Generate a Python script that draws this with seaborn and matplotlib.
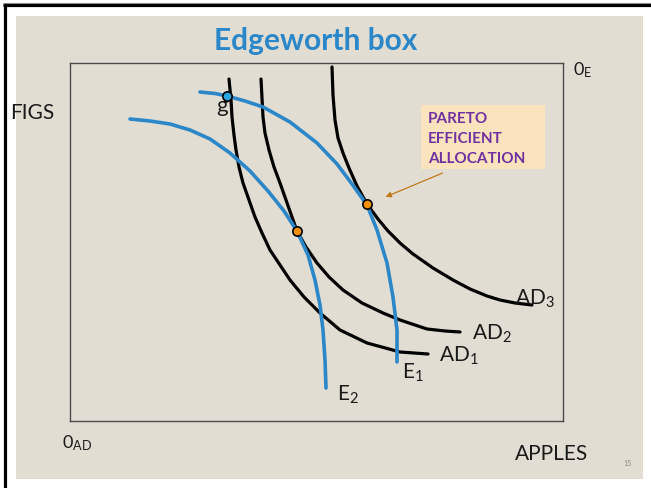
import matplotlib
matplotlib.use("Agg")
import matplotlib.pyplot as plt
from matplotlib.patches import Rectangle
from matplotlib.lines import Line2D
import pandas as pd
import seaborn as sns

# Curve points, measured inside the box (x: apples from 0_AD, y: figs from 0_AD)
e2_x = [60, 80, 100, 120, 140, 160, 180, 198, 214, 227, 238, 245, 250, 253, 255, 256]
e2_y = [302, 300, 297, 291, 282, 268, 250, 230, 210, 190, 166, 141, 116, 91, 61, 33]
e1_x = [130, 145, 157, 175, 193, 220, 247, 267, 282, 297, 307, 317, 323, 327, 327]
e1_y = [329, 327.5, 325, 320, 314, 299, 278, 257, 237, 216, 191, 158, 124, 91, 59]
ad1_x = [159, 161, 162, 164, 166, 169, 173, 179, 185, 192, 200, 210, 220, 234, 250, 270, 297, 330, 358]
ad1_y = [342, 321, 304, 286, 271, 254, 238, 221, 204, 188, 171, 156, 141, 124, 108, 91, 78, 69, 67]
ad2_x = [191, 192, 193, 195, 199, 204, 210, 216, 222, 227, 236, 247, 259, 273, 292, 313, 330, 357, 375, 390]
ad2_y = [342, 323, 304, 288, 271, 254, 238, 221, 204, 190, 174, 158, 144, 131, 118, 108, 101, 92, 90, 89]
ad3_x = [262, 263, 265, 268, 273, 279, 287, 297, 308, 318, 330, 343, 363, 383, 400, 417, 430, 445, 462]
ad3_y = [354, 326, 301, 283, 268, 253, 235, 217, 202, 190, 178, 167, 153, 141, 132, 125, 121, 118, 116]

# Marked allocations
pareto_x = [227, 297]
pareto_y = [190, 217]
g_x = [157]
g_y = [325]

curves = {"E1": (e1_x, e1_y), "E2": (e2_x, e2_y),
          "AD1": (ad1_x, ad1_y), "AD2": (ad2_x, ad2_y), "AD3": (ad3_x, ad3_y)}

W, H = 651, 488
BOX_L, BOX_T, BOX_R, BOX_B = 70, 63, 563, 421

sns.set_style("white")
plt.rcParams["font.family"] = ["Lato", "DejaVu Sans"]
plt.rcParams["mathtext.fontset"] = "custom"
plt.rcParams["mathtext.rm"] = "Lato"
plt.rcParams["mathtext.default"] = "regular"

BLUE = "#2b87c8"
BEIGE = "#e2ddd2"

fig = plt.figure(figsize=(W / 100, H / 100), dpi=100)
fig.patch.set_facecolor("white")


def fx(px):
    return px / W


def fy(py):
    return 1 - py / H


# slide background and frame
fig.add_artist(Rectangle((fx(16), fy(479)), fx(643) - fx(16), fy(16) - fy(479),
                         transform=fig.transFigure, facecolor=BEIGE, edgecolor="none", zorder=0))
fig.add_artist(Line2D([fx(4.5), fx(4.5)], [fy(3), fy(488)], transform=fig.transFigure,
                      color="black", lw=2.3, solid_capstyle="butt"))
fig.add_artist(Line2D([fx(3), fx(651)], [fy(4.5), fy(4.5)], transform=fig.transFigure,
                      color="black", lw=2.3, solid_capstyle="butt"))
fig.add_artist(Line2D([fx(3), fx(651)], [fy(2.8), fy(2.8)], transform=fig.transFigure,
                      color="#888888", lw=0.8, solid_capstyle="butt"))

ax = fig.add_axes([fx(BOX_L), fy(BOX_B), fx(BOX_R) - fx(BOX_L), fy(BOX_T) - fy(BOX_B)])
ax.set_facecolor("none")
ax.set_xlim(0, BOX_R - BOX_L)
ax.set_ylim(0, BOX_B - BOX_T)
ax.set_xticks([])
ax.set_yticks([])
for s in ax.spines.values():
    s.set_color("#4a4a4a")
    s.set_linewidth(1.0)

for name, (xs, ys) in curves.items():
    df = pd.DataFrame({"x": xs, "y": ys})
    is_e = name.startswith("E")
    sns.lineplot(data=df, x="x", y="y", sort=False, estimator=None,
                 color=BLUE if is_e else "black", lw=2.6 if is_e else 2.3, ax=ax,
                 solid_capstyle="round", solid_joinstyle="round", zorder=3 if is_e else 2)

sns.scatterplot(x=pareto_x, y=pareto_y, color="#f39200", edgecolor="black", linewidth=1.2,
                s=45, ax=ax, zorder=5)
sns.scatterplot(x=g_x, y=g_y, color="#29a8df", edgecolor="black", linewidth=1.2,
                s=45, ax=ax, zorder=5)

# curve labels
lab = dict(fontsize=15, color="#1a1a1a", va="baseline", ha="left")
ax.text(445, 116, "AD$_3$", **lab)
ax.text(402, 81, "AD$_2$", **lab)
ax.text(369, 59, "AD$_1$", **lab)
ax.text(332, 42, "E$_1$", **lab)
ax.text(267, 20, "E$_2$", **lab)
ax.text(152, 309, "g", fontsize=16, color="#1a1a1a", va="baseline", ha="center")

# pareto callout
fig.add_artist(Rectangle((fx(421), fy(169)), fx(545) - fx(421), fy(105) - fy(169),
                         transform=fig.transFigure, facecolor="#fbe3bd", edgecolor="none", zorder=1))
for i, line in enumerate(["PARETO", "EFFICIENT", "ALLOCATION"]):
    fig.text(fx(428), fy(123 + 20 * i), line, fontsize=11, fontweight="bold",
             color="#7030a0", va="baseline", ha="left")
ax.annotate("", xy=(313, 223), xytext=(375, 249),
            arrowprops=dict(arrowstyle="-|>", color="#c07a1a", lw=0.9, mutation_scale=8))

# slide texts
fig.text(fx(316), fy(50), "Edgeworth box", fontsize=21.5, fontweight="bold", color=BLUE,
         ha="center", va="baseline")
fig.text(fx(10), fy(119), "FIGS", fontsize=15, color="#1a1a1a", ha="left", va="baseline")
fig.text(fx(515), fy(460), "APPLES", fontsize=15, color="#1a1a1a", ha="left", va="baseline")
fig.text(fx(62), fy(448), "0$_{AD}$", fontsize=13, color="#1a1a1a", ha="left", va="baseline")
fig.text(fx(573), fy(75), "0$_E$", fontsize=13, color="#1a1a1a", ha="left", va="baseline")
fig.text(fx(628), fy(466), "15", fontsize=5, color="#8a8a8a", ha="center", va="baseline")

fig.savefig("out.png", dpi=100, facecolor="white")
